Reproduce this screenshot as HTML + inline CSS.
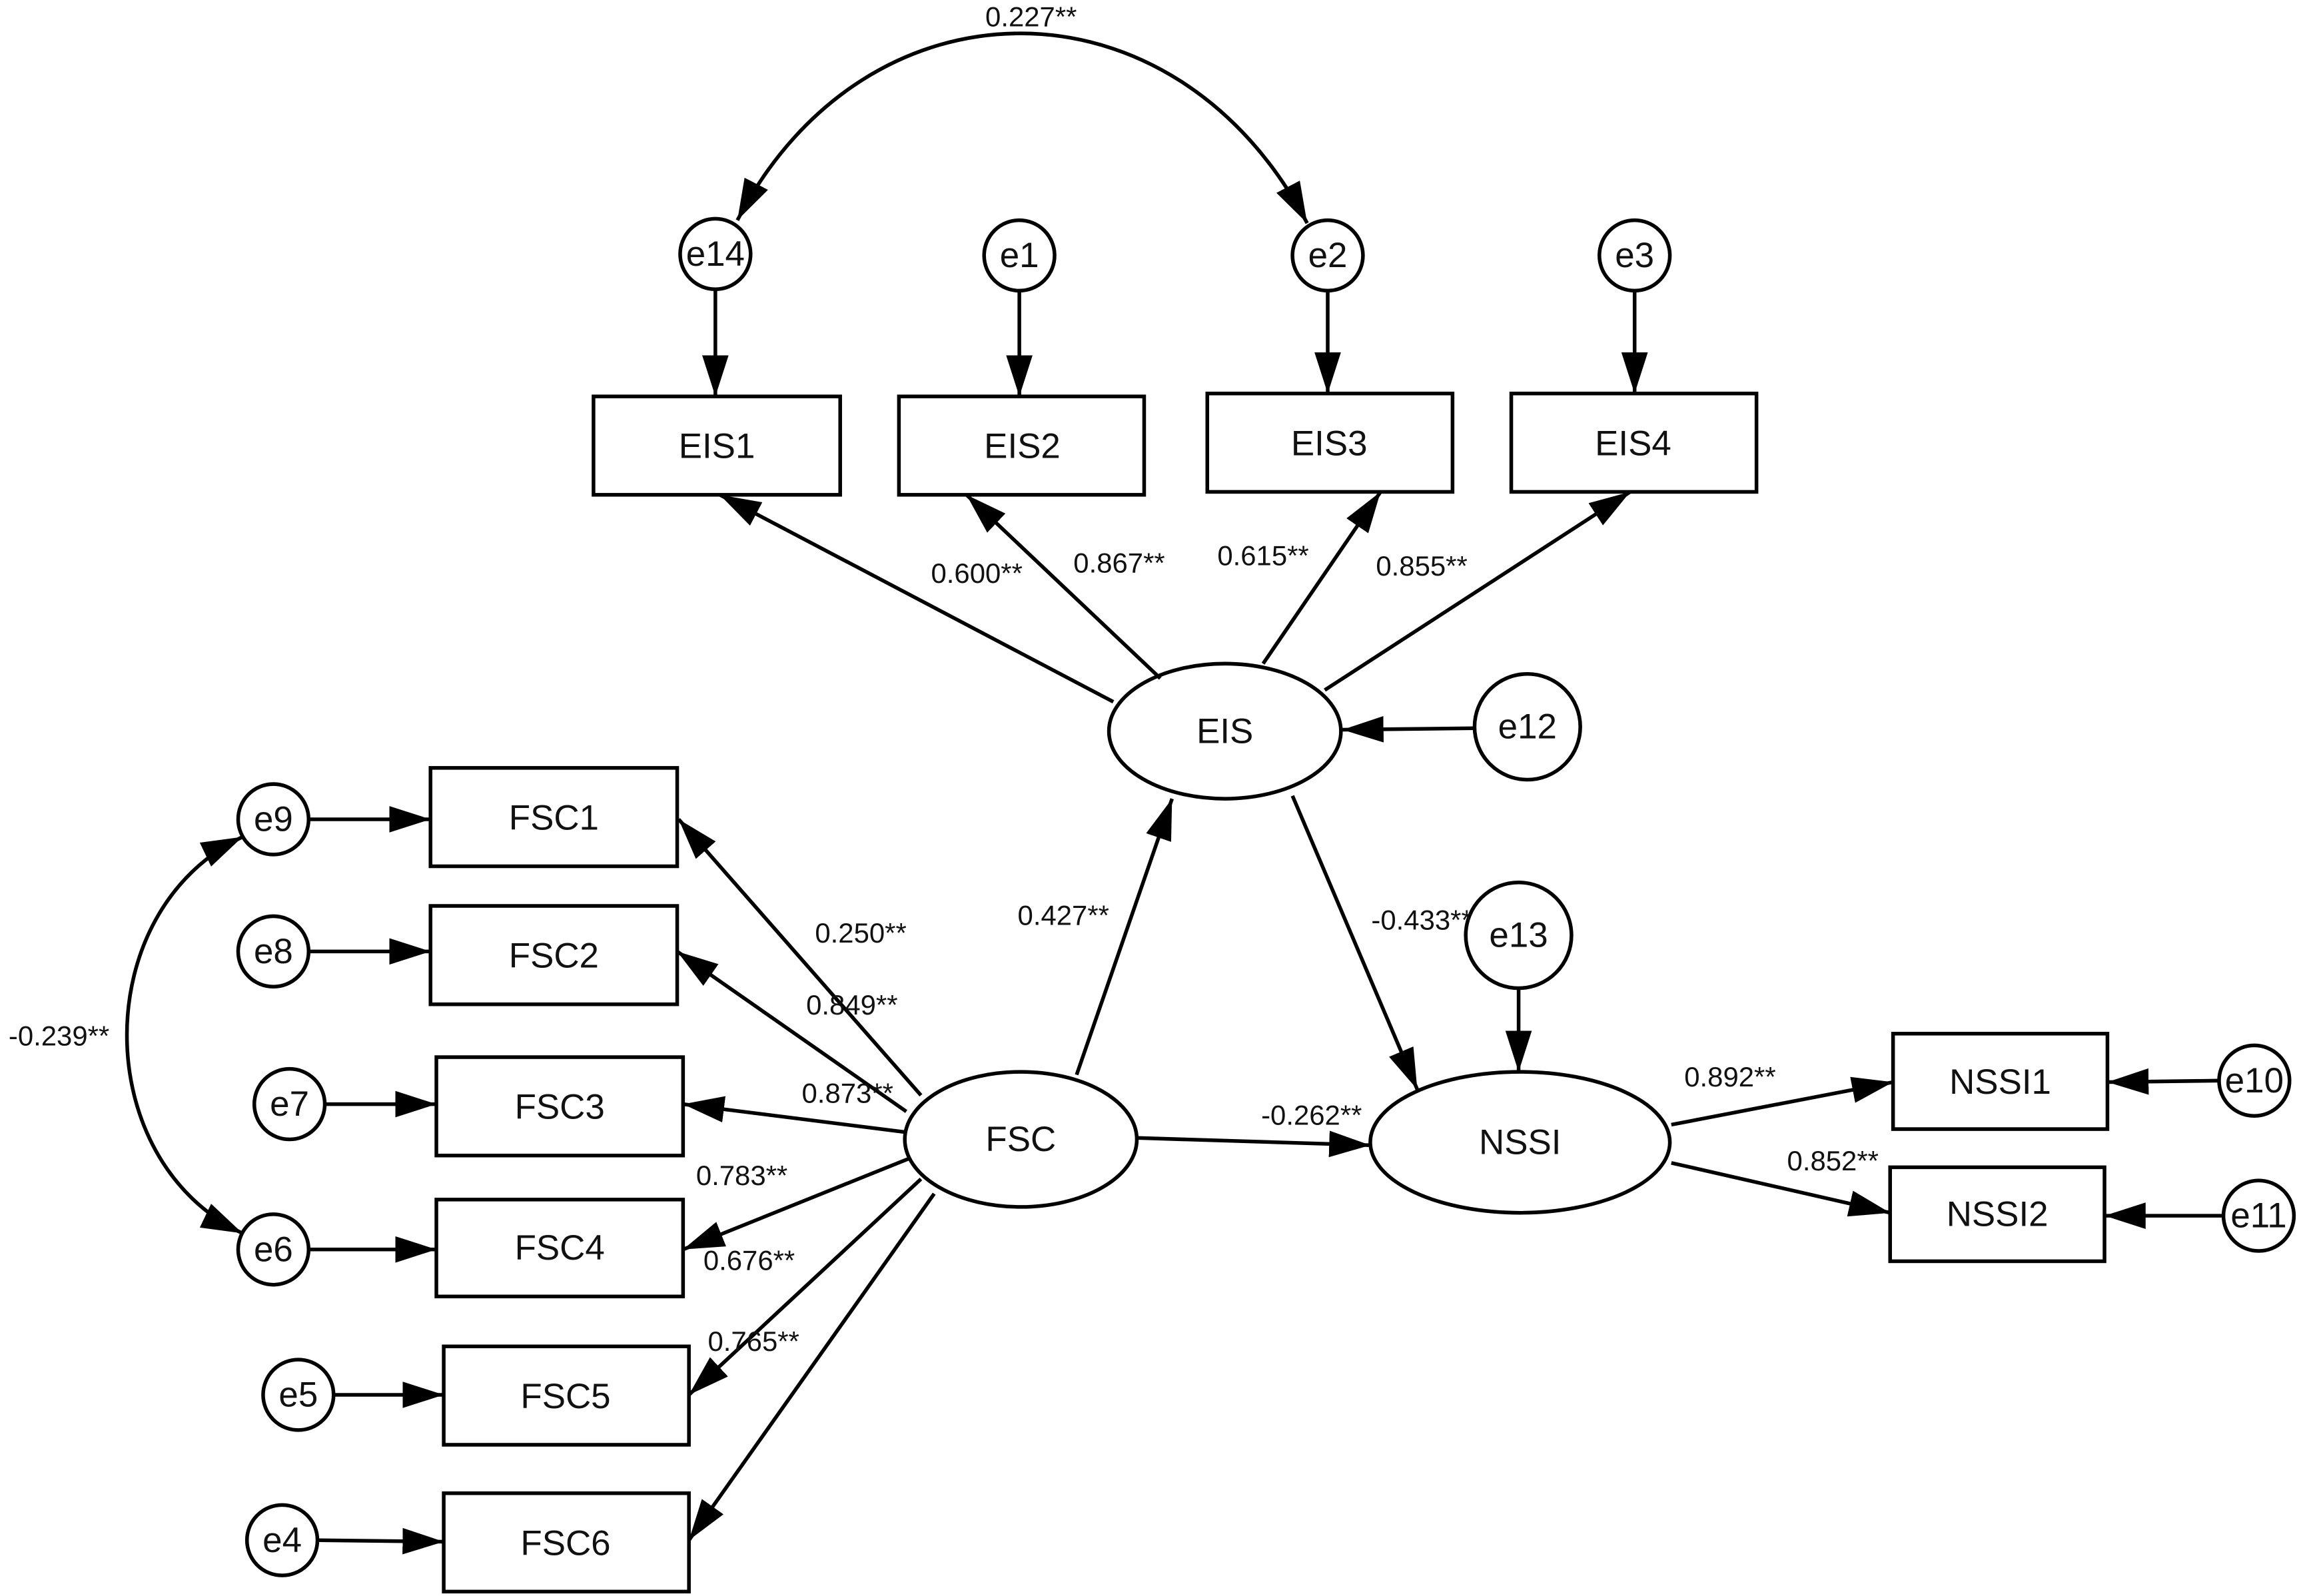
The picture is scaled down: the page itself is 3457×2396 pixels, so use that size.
<!DOCTYPE html>
<html><head><meta charset="utf-8"><style>
html,body{margin:0;padding:0;background:#fff;}
svg{display:block;}
text{font-family:"Liberation Sans",Arial,sans-serif;fill:#111;}
.b{font-size:24px;}
.c{font-size:19px;}
</style></head><body>
<svg width="3457" height="2396" viewBox="0 0 1568 1087" xmlns="http://www.w3.org/2000/svg">
<defs>
<marker id="a" markerUnits="userSpaceOnUse" markerWidth="30" markerHeight="20" refX="28" refY="9" orient="auto-start-reverse">
<path d="M0,0 L28,9 L0,18 Z" fill="#000"/></marker>
</defs>
<g stroke="#000" stroke-width="2.5" fill="none">
<circle cx="487" cy="173" r="24" fill="#fff"/>
<circle cx="694" cy="174" r="24" fill="#fff"/>
<circle cx="904" cy="174" r="24" fill="#fff"/>
<circle cx="1113" cy="174" r="24" fill="#fff"/>
<line x1="487" y1="197" x2="487" y2="270" marker-end="url(#a)"/>
<line x1="694" y1="198" x2="694" y2="270" marker-end="url(#a)"/>
<line x1="904" y1="198" x2="904" y2="268" marker-end="url(#a)"/>
<line x1="1113" y1="198" x2="1113" y2="268" marker-end="url(#a)"/>
<path d="M502,150 C590,-20 800,-20 890,152" marker-start="url(#a)" marker-end="url(#a)"/>
<rect x="404" y="270" width="168" height="67"/>
<rect x="612" y="270" width="167" height="67"/>
<rect x="822" y="268" width="167" height="67"/>
<rect x="1029" y="268" width="167" height="67"/>
<ellipse cx="834" cy="498" rx="79" ry="46"/>
<circle cx="1040" cy="495" r="36"/>
<line x1="1004" y1="496" x2="914" y2="497" marker-end="url(#a)"/>
<line x1="758" y1="478" x2="490" y2="337" marker-end="url(#a)"/>
<line x1="790" y1="462" x2="658" y2="337" marker-end="url(#a)"/>
<line x1="860" y1="452" x2="940" y2="335" marker-end="url(#a)"/>
<line x1="902" y1="470" x2="1110" y2="335" marker-end="url(#a)"/>
<rect x="293" y="523" width="168" height="67"/>
<rect x="293" y="617" width="168" height="67"/>
<rect x="297" y="720" width="168" height="67"/>
<rect x="297" y="817" width="168" height="66"/>
<rect x="302" y="917" width="167" height="67"/>
<rect x="302" y="1017" width="167" height="67"/>
<circle cx="186" cy="558" r="24"/>
<circle cx="186" cy="648" r="24"/>
<circle cx="197" cy="752" r="24"/>
<circle cx="186" cy="851" r="24"/>
<circle cx="203" cy="950" r="24"/>
<circle cx="192" cy="1049" r="24"/>
<line x1="210" y1="558" x2="293" y2="558" marker-end="url(#a)"/>
<line x1="210" y1="648" x2="293" y2="648" marker-end="url(#a)"/>
<line x1="221" y1="752" x2="297" y2="752" marker-end="url(#a)"/>
<line x1="210" y1="851" x2="297" y2="851" marker-end="url(#a)"/>
<line x1="227" y1="950" x2="302" y2="950" marker-end="url(#a)"/>
<line x1="216" y1="1049" x2="302" y2="1050" marker-end="url(#a)"/>
<path d="M165,570 C60,620 60,790 165,840" marker-start="url(#a)" marker-end="url(#a)"/>
<ellipse cx="695" cy="776" rx="79" ry="46"/>
<line x1="627" y1="746" x2="462" y2="558" marker-end="url(#a)"/>
<line x1="617" y1="757" x2="461" y2="648" marker-end="url(#a)"/>
<line x1="616" y1="771" x2="465" y2="752" marker-end="url(#a)"/>
<line x1="619" y1="789" x2="465" y2="851" marker-end="url(#a)"/>
<line x1="627" y1="803" x2="469" y2="950" marker-end="url(#a)"/>
<line x1="636" y1="813" x2="469" y2="1049" marker-end="url(#a)"/>
<line x1="733" y1="732" x2="798" y2="544" marker-end="url(#a)"/>
<line x1="880" y1="542" x2="965" y2="742" marker-end="url(#a)"/>
<line x1="774" y1="775" x2="933" y2="780" marker-end="url(#a)"/>
<ellipse cx="1035" cy="778" rx="102" ry="48"/>
<circle cx="1034" cy="637" r="36"/>
<line x1="1034" y1="673" x2="1034" y2="730" marker-end="url(#a)"/>
<rect x="1289" y="704" width="146" height="65"/>
<rect x="1287" y="795" width="146" height="64"/>
<circle cx="1535" cy="736" r="24"/>
<circle cx="1538" cy="828" r="24"/>
<line x1="1511" y1="736" x2="1435" y2="737" marker-end="url(#a)"/>
<line x1="1514" y1="828" x2="1433" y2="828" marker-end="url(#a)"/>
<line x1="1138" y1="766" x2="1289" y2="737" marker-end="url(#a)"/>
<line x1="1138" y1="792" x2="1287" y2="826" marker-end="url(#a)"/>
</g>
<g class="b" text-anchor="middle">
<text x="487" y="181">e14</text><text x="694" y="182">e1</text><text x="904" y="182">e2</text><text x="1113" y="182">e3</text>
<text x="488" y="312">EIS1</text><text x="696" y="312">EIS2</text><text x="905" y="310">EIS3</text><text x="1112" y="310">EIS4</text>
<text x="834" y="506">EIS</text><text x="1040" y="503">e12</text>
<text x="377" y="565">FSC1</text><text x="377" y="659">FSC2</text><text x="381" y="762">FSC3</text><text x="381" y="858">FSC4</text><text x="385" y="959">FSC5</text><text x="385" y="1059">FSC6</text>
<text x="186" y="566">e9</text><text x="186" y="656">e8</text><text x="197" y="760">e7</text><text x="186" y="859">e6</text><text x="203" y="958">e5</text><text x="192" y="1057">e4</text>
<text x="695" y="784">FSC</text><text x="1035" y="786">NSSI</text><text x="1034" y="645">e13</text>
<text x="1362" y="745">NSSI1</text><text x="1360" y="835">NSSI2</text>
<text x="1535" y="744">e10</text><text x="1538" y="836">e11</text>
</g>
<g class="c" text-anchor="middle">
<text x="702" y="18">0.227**</text>
<text x="665" y="397">0.600**</text><text x="762" y="390">0.867**</text><text x="860" y="385">0.615**</text><text x="968" y="392">0.855**</text>
<text x="40" y="712">-0.239**</text>
<text x="586" y="642">0.250**</text><text x="580" y="691">0.849**</text><text x="577" y="751">0.873**</text><text x="505" y="807">0.783**</text><text x="510" y="865">0.676**</text><text x="513" y="920">0.765**</text>
<text x="724" y="630">0.427**</text><text x="968" y="633">-0.433**</text><text x="893" y="766">-0.262**</text>
<text x="1178" y="740">0.892**</text><text x="1248" y="797">0.852**</text>
</g>
</svg>
</body></html>
